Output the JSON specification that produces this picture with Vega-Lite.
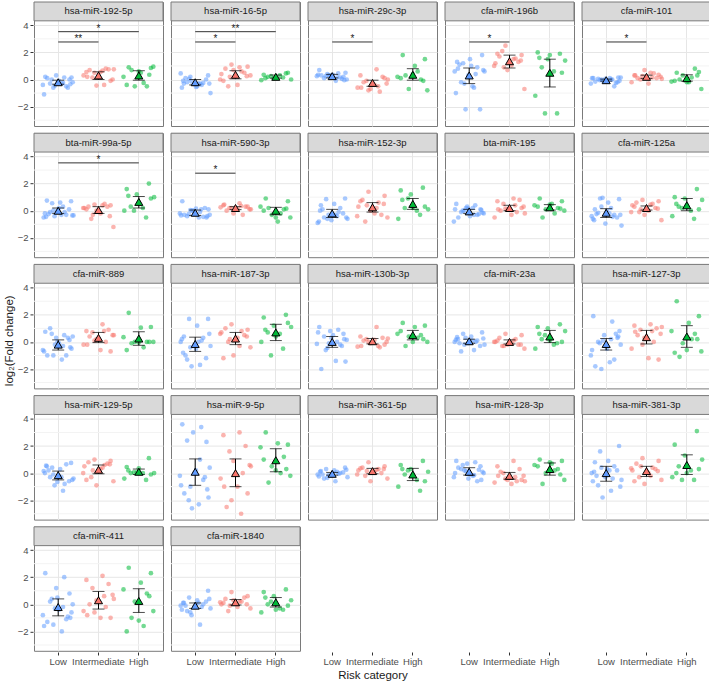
{
"$schema": "https://vega.github.io/schema/vega-lite/v6.json",
"background": "white",
"padding": {"left": 3, "top": 0, "right": 0, "bottom": 2},
"title": {"text": "log₂(Fold change)", "orient": "left", "anchor": "middle", "fontSize": 11.5, "fontWeight": "normal", "color": "#1a1a1a", "offset": 2},
"data": {"values": [
{"n":1,"name":"hsa-miR-192-5p"},{"n":2,"name":"hsa-miR-16-5p"},{"n":3,"name":"hsa-miR-29c-3p"},{"n":4,"name":"cfa-miR-196b"},{"n":5,"name":"cfa-miR-101"},{"n":6,"name":"bta-miR-99a-5p"},{"n":7,"name":"hsa-miR-590-3p"},{"n":8,"name":"hsa-miR-152-3p"},{"n":9,"name":"bta-miR-195"},{"n":10,"name":"cfa-miR-125a"},{"n":11,"name":"cfa-miR-889"},{"n":12,"name":"hsa-miR-187-3p"},{"n":13,"name":"hsa-miR-130b-3p"},{"n":14,"name":"cfa-miR-23a"},{"n":15,"name":"hsa-miR-127-3p"},{"n":16,"name":"hsa-miR-129-5p"},{"n":17,"name":"hsa-miR-9-5p"},{"n":18,"name":"hsa-miR-361-5p"},{"n":19,"name":"hsa-miR-128-3p"},{"n":20,"name":"hsa-miR-381-3p"},{"n":21,"name":"cfa-miR-411"},{"n":22,"name":"cfa-miR-1840"},
{"n":1,"a":"L","b":"I","y":2.77,"s":"**"},{"n":1,"a":"L","b":"H","y":3.53,"s":"*"},
{"n":2,"a":"L","b":"I","y":2.77,"s":"*"},{"n":2,"a":"L","b":"H","y":3.53,"s":"**"},
{"n":3,"a":"L","b":"I","y":2.77,"s":"*"},{"n":4,"a":"L","b":"I","y":2.77,"s":"*"},{"n":5,"a":"L","b":"I","y":2.77,"s":"*"},
{"n":6,"a":"L","b":"H","y":3.53,"s":"*"},{"n":7,"a":"L","b":"I","y":2.77,"s":"*"},
{"n":1,"c":"L","m":-0.2,"lo":-0.35,"hi":-0.05},{"n":1,"c":"I","m":0.3,"lo":0.0,"hi":0.57},{"n":1,"c":"H","m":0.3,"lo":-0.05,"hi":0.65},
{"n":2,"c":"L","m":-0.2,"lo":-0.4,"hi":0.0},{"n":2,"c":"I","m":0.35,"lo":0.05,"hi":0.65},{"n":2,"c":"H","m":0.2,"lo":0.1,"hi":0.33},
{"n":3,"c":"L","m":0.25,"lo":0.12,"hi":0.38},{"n":3,"c":"I","m":-0.25,"lo":-0.5,"hi":-0.05},{"n":3,"c":"H","m":0.35,"lo":-0.05,"hi":0.8},
{"n":4,"c":"L","m":0.3,"lo":-0.3,"hi":0.85},{"n":4,"c":"I","m":1.35,"lo":0.85,"hi":1.8},{"n":4,"c":"H","m":0.5,"lo":-0.55,"hi":1.5},
{"n":5,"c":"L","m":-0.05,"lo":-0.12,"hi":0.03},{"n":5,"c":"I","m":0.2,"lo":0.08,"hi":0.32},{"n":5,"c":"H","m":0.1,"lo":-0.12,"hi":0.35},
{"n":6,"c":"L","m":0.0,"lo":-0.2,"hi":0.2},{"n":6,"c":"I","m":0.05,"lo":-0.2,"hi":0.3},{"n":6,"c":"H","m":0.65,"lo":0.2,"hi":1.05},
{"n":7,"c":"L","m":-0.15,"lo":-0.35,"hi":0.05},{"n":7,"c":"I","m":0.2,"lo":0.08,"hi":0.3},{"n":7,"c":"H","m":0.0,"lo":-0.3,"hi":0.25},
{"n":8,"c":"L","m":-0.2,"lo":-0.5,"hi":0.1},{"n":8,"c":"I","m":0.25,"lo":-0.1,"hi":0.6},{"n":8,"c":"H","m":0.5,"lo":0.1,"hi":0.9},
{"n":9,"c":"L","m":-0.05,"lo":-0.2,"hi":0.1},{"n":9,"c":"I","m":0.2,"lo":0.0,"hi":0.4},{"n":9,"c":"H","m":0.25,"lo":0.05,"hi":0.45},
{"n":10,"c":"L","m":-0.15,"lo":-0.5,"hi":0.15},{"n":10,"c":"I","m":0.2,"lo":0.05,"hi":0.35},{"n":10,"c":"H","m":0.4,"lo":0.0,"hi":0.9},
{"n":11,"c":"L","m":-0.2,"lo":-0.6,"hi":0.15},{"n":11,"c":"I","m":0.3,"lo":-0.05,"hi":0.7},{"n":11,"c":"H","m":0.25,"lo":-0.25,"hi":0.75},
{"n":12,"c":"L","m":-0.15,"lo":-0.7,"hi":0.35},{"n":12,"c":"I","m":0.25,"lo":-0.2,"hi":0.7},{"n":12,"c":"H","m":0.7,"lo":0.1,"hi":1.3},
{"n":13,"c":"L","m":0.0,"lo":-0.4,"hi":0.4},{"n":13,"c":"I","m":0.05,"lo":-0.15,"hi":0.25},{"n":13,"c":"H","m":0.5,"lo":0.15,"hi":0.85},
{"n":14,"c":"L","m":0.05,"lo":-0.1,"hi":0.2},{"n":14,"c":"I","m":0.0,"lo":-0.15,"hi":0.15},{"n":14,"c":"H","m":0.4,"lo":-0.05,"hi":0.85},
{"n":15,"c":"L","m":-0.15,"lo":-0.6,"hi":0.25},{"n":15,"c":"I","m":0.35,"lo":-0.15,"hi":0.85},{"n":15,"c":"H","m":0.4,"lo":-0.4,"hi":1.2},
{"n":16,"c":"L","m":-0.15,"lo":-0.5,"hi":0.15},{"n":16,"c":"I","m":0.25,"lo":-0.05,"hi":0.6},{"n":16,"c":"H","m":0.1,"lo":-0.1,"hi":0.3},
{"n":17,"c":"L","m":0.1,"lo":-0.9,"hi":1.05},{"n":17,"c":"I","m":0.0,"lo":-1.0,"hi":1.05},{"n":17,"c":"H","m":0.95,"lo":0.1,"hi":1.8},
{"n":18,"c":"L","m":-0.05,"lo":-0.15,"hi":0.05},{"n":18,"c":"I","m":0.15,"lo":-0.05,"hi":0.35},{"n":18,"c":"H","m":-0.1,"lo":-0.55,"hi":0.35},
{"n":19,"c":"L","m":0.1,"lo":-0.15,"hi":0.4},{"n":19,"c":"I","m":-0.2,"lo":-0.45,"hi":0.05},{"n":19,"c":"H","m":0.3,"lo":-0.15,"hi":0.75},
{"n":20,"c":"L","m":0.0,"lo":-0.6,"hi":0.5},{"n":20,"c":"I","m":0.15,"lo":-0.25,"hi":0.5},{"n":20,"c":"H","m":0.6,"lo":-0.1,"hi":1.35},
{"n":21,"c":"L","m":-0.2,"lo":-0.85,"hi":0.4},{"n":21,"c":"I","m":0.3,"lo":-0.35,"hi":0.95},{"n":21,"c":"H","m":0.25,"lo":-0.6,"hi":1.15},
{"n":22,"c":"L","m":-0.1,"lo":-0.3,"hi":0.1},{"n":22,"c":"I","m":0.15,"lo":-0.05,"hi":0.35},{"n":22,"c":"H","m":0.15,"lo":-0.2,"hi":0.5},
{"n":1,"c":"L","v":0.2,"j":-0.32},{"n":1,"c":"L","v":0.15,"j":0.15},{"n":1,"c":"L","v":0.3,"j":-0.05},{"n":1,"c":"L","v":0.0,"j":0.28},{"n":1,"c":"L","v":-0.3,"j":-0.2},{"n":1,"c":"L","v":-0.2,"j":0.36},{"n":1,"c":"L","v":-0.1,"j":0.02},{"n":1,"c":"L","v":-0.4,"j":-0.38},{"n":1,"c":"L","v":-0.5,"j":0.2},{"n":1,"c":"L","v":-0.6,"j":-0.12},{"n":1,"c":"L","v":-0.3,"j":0.09},{"n":1,"c":"L","v":0.1,"j":-0.27},{"n":1,"c":"L","v":0.15,"j":0.33},{"n":1,"c":"L","v":-0.2,"j":-0.02},{"n":1,"c":"L","v":-0.6,"j":0.24},{"n":1,"c":"L","v":-1.1,"j":-0.35},{"n":1,"c":"L","v":-0.25,"j":0.12},{"n":1,"c":"L","v":0.0,"j":-0.16},{"n":1,"c":"L","v":-0.35,"j":0.3},{"n":1,"c":"L","v":-0.45,"j":-0.08},
{"n":1,"c":"I","v":0.65,"j":0.1},{"n":1,"c":"I","v":0.55,"j":-0.3},{"n":1,"c":"I","v":0.75,"j":0.25},{"n":1,"c":"I","v":0.15,"j":-0.15},{"n":1,"c":"I","v":0.0,"j":0.35},{"n":1,"c":"I","v":-0.45,"j":-0.05},{"n":1,"c":"I","v":0.8,"j":0.18},{"n":1,"c":"I","v":0.3,"j":-0.37},{"n":1,"c":"I","v":0.55,"j":0.05},{"n":1,"c":"I","v":-0.1,"j":0.3},{"n":1,"c":"I","v":0.7,"j":-0.22},{"n":1,"c":"I","v":-0.4,"j":0.14},{"n":1,"c":"I","v":0.5,"j":-0.1},{"n":1,"c":"I","v":0.75,"j":0.38},{"n":1,"c":"I","v":0.2,"j":-0.28},
{"n":1,"c":"H","v":0.9,"j":-0.25},{"n":1,"c":"H","v":0.85,"j":0.3},{"n":1,"c":"H","v":0.5,"j":0.05},{"n":1,"c":"H","v":0.2,"j":-0.38},{"n":1,"c":"H","v":-0.5,"j":0.2},{"n":1,"c":"H","v":-0.5,"j":-0.1},{"n":1,"c":"H","v":0.95,"j":0.36},{"n":1,"c":"H","v":0.7,"j":-0.18},{"n":1,"c":"H","v":-0.25,"j":0.12},{"n":1,"c":"H","v":-0.4,"j":-0.3},{"n":1,"c":"H","v":0.35,"j":0.26},{"n":1,"c":"H","v":0.6,"j":0.0},
{"n":2,"c":"L","v":0.3,"j":0.32},{"n":2,"c":"L","v":0.05,"j":-0.15},{"n":2,"c":"L","v":-0.5,"j":0.05},{"n":2,"c":"L","v":-0.3,"j":-0.28},{"n":2,"c":"L","v":-0.25,"j":0.2},{"n":2,"c":"L","v":0.45,"j":-0.36},{"n":2,"c":"L","v":-0.35,"j":-0.02},{"n":2,"c":"L","v":-1.0,"j":0.38},{"n":2,"c":"L","v":-0.2,"j":-0.2},{"n":2,"c":"L","v":-0.3,"j":0.12},{"n":2,"c":"L","v":-0.15,"j":-0.09},{"n":2,"c":"L","v":0.0,"j":0.27},{"n":2,"c":"L","v":-0.6,"j":-0.33},{"n":2,"c":"L","v":-0.55,"j":0.02},{"n":2,"c":"L","v":0.1,"j":-0.24},{"n":2,"c":"L","v":-0.3,"j":0.35},{"n":2,"c":"L","v":0.2,"j":-0.12},{"n":2,"c":"L","v":-0.4,"j":0.16},{"n":2,"c":"L","v":-0.1,"j":-0.3},{"n":2,"c":"L","v":-0.3,"j":0.08},
{"n":2,"c":"I","v":1.1,"j":-0.1},{"n":2,"c":"I","v":0.95,"j":0.3},{"n":2,"c":"I","v":0.8,"j":-0.25},{"n":2,"c":"I","v":0.6,"j":0.15},{"n":2,"c":"I","v":0.4,"j":-0.35},{"n":2,"c":"I","v":-0.4,"j":0.05},{"n":2,"c":"I","v":-0.5,"j":-0.18},{"n":2,"c":"I","v":0.3,"j":0.37},{"n":2,"c":"I","v":0.7,"j":-0.05},{"n":2,"c":"I","v":-0.1,"j":-0.3},{"n":2,"c":"I","v":0.5,"j":0.22},{"n":2,"c":"I","v":0.2,"j":-0.14},{"n":2,"c":"I","v":0.9,"j":0.1},{"n":2,"c":"I","v":0.0,"j":-0.38},{"n":2,"c":"I","v":0.25,"j":0.28},
{"n":2,"c":"H","v":0.45,"j":0.25},{"n":2,"c":"H","v":0.35,"j":-0.3},{"n":2,"c":"H","v":0.1,"j":-0.05},{"n":2,"c":"H","v":0.0,"j":0.38},{"n":2,"c":"H","v":0.2,"j":-0.2},{"n":2,"c":"H","v":0.3,"j":0.1},{"n":2,"c":"H","v":-0.05,"j":-0.36},{"n":2,"c":"H","v":0.15,"j":0.18},{"n":2,"c":"H","v":0.25,"j":-0.12},{"n":2,"c":"H","v":0.5,"j":0.3},{"n":2,"c":"H","v":0.1,"j":-0.26},{"n":2,"c":"H","v":0.15,"j":0.0},
{"n":3,"c":"L","v":0.7,"j":-0.32},{"n":3,"c":"L","v":0.45,"j":0.15},{"n":3,"c":"L","v":0.3,"j":-0.05},{"n":3,"c":"L","v":0.2,"j":0.28},{"n":3,"c":"L","v":0.1,"j":-0.2},{"n":3,"c":"L","v":0.0,"j":0.36},{"n":3,"c":"L","v":0.35,"j":0.02},{"n":3,"c":"L","v":0.25,"j":-0.38},{"n":3,"c":"L","v":0.15,"j":0.2},{"n":3,"c":"L","v":0.4,"j":-0.12},{"n":3,"c":"L","v":-0.1,"j":0.09},{"n":3,"c":"L","v":0.3,"j":-0.27},{"n":3,"c":"L","v":0.5,"j":0.33},{"n":3,"c":"L","v":0.2,"j":-0.02},{"n":3,"c":"L","v":0.05,"j":0.24},{"n":3,"c":"L","v":0.35,"j":-0.35},{"n":3,"c":"L","v":0.15,"j":0.12},{"n":3,"c":"L","v":0.25,"j":-0.16},{"n":3,"c":"L","v":-0.05,"j":0.3},{"n":3,"c":"L","v":0.3,"j":-0.08},
{"n":3,"c":"I","v":0.75,"j":0.1},{"n":3,"c":"I","v":0.3,"j":-0.3},{"n":3,"c":"I","v":0.2,"j":0.25},{"n":3,"c":"I","v":-0.1,"j":-0.15},{"n":3,"c":"I","v":-0.3,"j":0.35},{"n":3,"c":"I","v":-0.7,"j":-0.05},{"n":3,"c":"I","v":-0.9,"j":0.18},{"n":3,"c":"I","v":-0.6,"j":-0.37},{"n":3,"c":"I","v":-0.4,"j":0.05},{"n":3,"c":"I","v":0.1,"j":0.3},{"n":3,"c":"I","v":-0.2,"j":-0.22},{"n":3,"c":"I","v":-0.5,"j":0.14},{"n":3,"c":"I","v":-0.8,"j":-0.1},{"n":3,"c":"I","v":0.0,"j":0.38},{"n":3,"c":"I","v":-0.6,"j":-0.28},
{"n":3,"c":"H","v":1.8,"j":-0.25},{"n":3,"c":"H","v":1.5,"j":0.3},{"n":3,"c":"H","v":1.0,"j":0.05},{"n":3,"c":"H","v":0.2,"j":-0.38},{"n":3,"c":"H","v":0.0,"j":0.2},{"n":3,"c":"H","v":-0.7,"j":-0.1},{"n":3,"c":"H","v":-0.8,"j":0.36},{"n":3,"c":"H","v":0.3,"j":-0.18},{"n":3,"c":"H","v":0.6,"j":0.12},{"n":3,"c":"H","v":0.1,"j":-0.3},{"n":3,"c":"H","v":-0.1,"j":0.26},{"n":3,"c":"H","v":0.4,"j":0.0},
{"n":4,"c":"L","v":1.8,"j":0.32},{"n":4,"c":"L","v":1.2,"j":-0.15},{"n":4,"c":"L","v":1.0,"j":0.05},{"n":4,"c":"L","v":0.8,"j":-0.28},{"n":4,"c":"L","v":0.9,"j":0.2},{"n":4,"c":"L","v":0.6,"j":-0.36},{"n":4,"c":"L","v":0.3,"j":-0.02},{"n":4,"c":"L","v":0.6,"j":0.38},{"n":4,"c":"L","v":-0.2,"j":-0.2},{"n":4,"c":"L","v":-0.6,"j":0.12},{"n":4,"c":"L","v":-2.2,"j":-0.09},{"n":4,"c":"L","v":-2.2,"j":0.27},{"n":4,"c":"L","v":-1.0,"j":-0.33},{"n":4,"c":"L","v":1.5,"j":0.02},{"n":4,"c":"L","v":1.1,"j":-0.24},{"n":4,"c":"L","v":0.7,"j":0.35},{"n":4,"c":"L","v":-0.3,"j":-0.12},{"n":4,"c":"L","v":0.4,"j":0.16},{"n":4,"c":"L","v":1.3,"j":-0.3},{"n":4,"c":"L","v":-0.5,"j":0.08},
{"n":4,"c":"I","v":2.5,"j":-0.1},{"n":4,"c":"I","v":1.8,"j":0.3},{"n":4,"c":"I","v":1.7,"j":-0.25},{"n":4,"c":"I","v":1.55,"j":0.15},{"n":4,"c":"I","v":1.2,"j":-0.35},{"n":4,"c":"I","v":1.05,"j":0.05},{"n":4,"c":"I","v":2.1,"j":-0.18},{"n":4,"c":"I","v":-0.7,"j":0.37},{"n":4,"c":"I","v":0.7,"j":-0.05},{"n":4,"c":"I","v":1.9,"j":-0.3},{"n":4,"c":"I","v":1.3,"j":0.22},{"n":4,"c":"I","v":0.9,"j":-0.14},{"n":4,"c":"I","v":1.5,"j":0.1},{"n":4,"c":"I","v":1.0,"j":-0.38},{"n":4,"c":"I","v":1.4,"j":0.28},
{"n":4,"c":"H","v":1.9,"j":0.25},{"n":4,"c":"H","v":2.0,"j":-0.3},{"n":4,"c":"H","v":1.5,"j":-0.05},{"n":4,"c":"H","v":1.4,"j":0.38},{"n":4,"c":"H","v":0.9,"j":-0.2},{"n":4,"c":"H","v":0.6,"j":0.1},{"n":4,"c":"H","v":-1.2,"j":-0.36},{"n":4,"c":"H","v":-2.5,"j":0.18},{"n":4,"c":"H","v":-2.5,"j":-0.12},{"n":4,"c":"H","v":0.5,"j":0.3},{"n":4,"c":"H","v":1.6,"j":-0.26},{"n":4,"c":"H","v":1.8,"j":0.0},
{"n":5,"c":"L","v":0.1,"j":-0.32},{"n":5,"c":"L","v":0.0,"j":0.15},{"n":5,"c":"L","v":-0.1,"j":-0.05},{"n":5,"c":"L","v":-0.2,"j":0.28},{"n":5,"c":"L","v":0.05,"j":-0.2},{"n":5,"c":"L","v":0.15,"j":0.36},{"n":5,"c":"L","v":-0.05,"j":0.02},{"n":5,"c":"L","v":-0.3,"j":-0.38},{"n":5,"c":"L","v":-0.5,"j":0.2},{"n":5,"c":"L","v":0.0,"j":-0.12},{"n":5,"c":"L","v":0.1,"j":0.09},{"n":5,"c":"L","v":-0.15,"j":-0.27},{"n":5,"c":"L","v":-0.1,"j":0.33},{"n":5,"c":"L","v":0.05,"j":-0.02},{"n":5,"c":"L","v":-0.25,"j":0.24},{"n":5,"c":"L","v":0.1,"j":-0.35},{"n":5,"c":"L","v":0.0,"j":0.12},{"n":5,"c":"L","v":-0.05,"j":-0.16},{"n":5,"c":"L","v":0.15,"j":0.3},{"n":5,"c":"L","v":-0.1,"j":-0.08},
{"n":5,"c":"I","v":0.5,"j":0.1},{"n":5,"c":"I","v":0.3,"j":-0.3},{"n":5,"c":"I","v":0.1,"j":0.25},{"n":5,"c":"I","v":0.0,"j":-0.15},{"n":5,"c":"I","v":0.2,"j":0.35},{"n":5,"c":"I","v":0.7,"j":-0.05},{"n":5,"c":"I","v":0.45,"j":0.18},{"n":5,"c":"I","v":-0.2,"j":-0.37},{"n":5,"c":"I","v":-0.3,"j":0.05},{"n":5,"c":"I","v":0.35,"j":0.3},{"n":5,"c":"I","v":0.1,"j":-0.22},{"n":5,"c":"I","v":0.15,"j":0.14},{"n":5,"c":"I","v":0.25,"j":-0.1},{"n":5,"c":"I","v":0.05,"j":0.38},{"n":5,"c":"I","v":0.3,"j":-0.28},
{"n":5,"c":"H","v":0.5,"j":-0.25},{"n":5,"c":"H","v":0.55,"j":0.3},{"n":5,"c":"H","v":-0.2,"j":0.05},{"n":5,"c":"H","v":-0.15,"j":-0.38},{"n":5,"c":"H","v":0.8,"j":0.2},{"n":5,"c":"H","v":0.3,"j":-0.1},{"n":5,"c":"H","v":-0.7,"j":0.36},{"n":5,"c":"H","v":0.0,"j":-0.18},{"n":5,"c":"H","v":0.15,"j":0.12},{"n":5,"c":"H","v":-0.1,"j":-0.3},{"n":5,"c":"H","v":0.3,"j":0.26},{"n":5,"c":"H","v":-0.2,"j":0.0},
{"n":6,"c":"L","v":0.7,"j":0.32},{"n":6,"c":"L","v":0.55,"j":-0.15},{"n":6,"c":"L","v":0.6,"j":0.05},{"n":6,"c":"L","v":0.75,"j":-0.28},{"n":6,"c":"L","v":-0.3,"j":0.2},{"n":6,"c":"L","v":-0.5,"j":-0.36},{"n":6,"c":"L","v":0.0,"j":-0.02},{"n":6,"c":"L","v":-0.35,"j":0.38},{"n":6,"c":"L","v":-0.1,"j":-0.2},{"n":6,"c":"L","v":0.3,"j":0.12},{"n":6,"c":"L","v":-0.4,"j":-0.09},{"n":6,"c":"L","v":0.1,"j":0.27},{"n":6,"c":"L","v":-0.2,"j":-0.33},{"n":6,"c":"L","v":0.2,"j":0.02},{"n":6,"c":"L","v":-0.25,"j":-0.24},{"n":6,"c":"L","v":-0.35,"j":0.35},{"n":6,"c":"L","v":0.0,"j":-0.12},{"n":6,"c":"L","v":-0.1,"j":0.16},{"n":6,"c":"L","v":-0.45,"j":-0.3},{"n":6,"c":"L","v":-0.3,"j":0.08},
{"n":6,"c":"I","v":0.45,"j":-0.1},{"n":6,"c":"I","v":0.4,"j":0.3},{"n":6,"c":"I","v":0.3,"j":-0.25},{"n":6,"c":"I","v":0.5,"j":0.15},{"n":6,"c":"I","v":0.2,"j":-0.35},{"n":6,"c":"I","v":-0.2,"j":0.05},{"n":6,"c":"I","v":-0.6,"j":-0.18},{"n":6,"c":"I","v":-1.2,"j":0.37},{"n":6,"c":"I","v":0.0,"j":-0.05},{"n":6,"c":"I","v":0.1,"j":-0.3},{"n":6,"c":"I","v":0.3,"j":0.22},{"n":6,"c":"I","v":-0.3,"j":-0.14},{"n":6,"c":"I","v":0.4,"j":0.1},{"n":6,"c":"I","v":0.2,"j":-0.38},{"n":6,"c":"I","v":-0.4,"j":0.28},
{"n":6,"c":"H","v":2.0,"j":0.25},{"n":6,"c":"H","v":1.6,"j":-0.3},{"n":6,"c":"H","v":1.2,"j":-0.05},{"n":6,"c":"H","v":1.0,"j":0.38},{"n":6,"c":"H","v":0.3,"j":-0.2},{"n":6,"c":"H","v":0.2,"j":0.1},{"n":6,"c":"H","v":0.0,"j":-0.36},{"n":6,"c":"H","v":-0.5,"j":0.18},{"n":6,"c":"H","v":0.0,"j":-0.12},{"n":6,"c":"H","v":0.9,"j":0.3},{"n":6,"c":"H","v":1.1,"j":-0.26},{"n":6,"c":"H","v":0.6,"j":0.0},
{"n":7,"c":"L","v":0.7,"j":-0.32},{"n":7,"c":"L","v":0.1,"j":0.15},{"n":7,"c":"L","v":0.0,"j":-0.05},{"n":7,"c":"L","v":-0.5,"j":0.28},{"n":7,"c":"L","v":-0.4,"j":-0.2},{"n":7,"c":"L","v":-0.3,"j":0.36},{"n":7,"c":"L","v":0.15,"j":0.02},{"n":7,"c":"L","v":-0.2,"j":-0.38},{"n":7,"c":"L","v":-0.45,"j":0.2},{"n":7,"c":"L","v":0.05,"j":-0.12},{"n":7,"c":"L","v":-0.5,"j":0.09},{"n":7,"c":"L","v":-0.3,"j":-0.27},{"n":7,"c":"L","v":0.1,"j":0.33},{"n":7,"c":"L","v":-0.2,"j":-0.02},{"n":7,"c":"L","v":0.2,"j":0.24},{"n":7,"c":"L","v":-0.35,"j":-0.35},{"n":7,"c":"L","v":-0.1,"j":0.12},{"n":7,"c":"L","v":-0.25,"j":-0.16},{"n":7,"c":"L","v":-0.4,"j":0.3},{"n":7,"c":"L","v":0.0,"j":-0.08},
{"n":7,"c":"I","v":0.55,"j":0.1},{"n":7,"c":"I","v":0.4,"j":-0.3},{"n":7,"c":"I","v":0.3,"j":0.25},{"n":7,"c":"I","v":0.2,"j":-0.15},{"n":7,"c":"I","v":0.1,"j":0.35},{"n":7,"c":"I","v":-0.2,"j":-0.05},{"n":7,"c":"I","v":-0.3,"j":0.18},{"n":7,"c":"I","v":0.25,"j":-0.37},{"n":7,"c":"I","v":0.15,"j":0.05},{"n":7,"c":"I","v":0.3,"j":0.3},{"n":7,"c":"I","v":0.0,"j":-0.22},{"n":7,"c":"I","v":0.35,"j":0.14},{"n":7,"c":"I","v":0.2,"j":-0.1},{"n":7,"c":"I","v":0.1,"j":0.38},{"n":7,"c":"I","v":0.45,"j":-0.28},
{"n":7,"c":"H","v":0.9,"j":-0.25},{"n":7,"c":"H","v":0.7,"j":0.3},{"n":7,"c":"H","v":-0.8,"j":0.05},{"n":7,"c":"H","v":0.3,"j":-0.38},{"n":7,"c":"H","v":0.1,"j":0.2},{"n":7,"c":"H","v":-0.3,"j":-0.1},{"n":7,"c":"H","v":-0.5,"j":0.36},{"n":7,"c":"H","v":0.2,"j":-0.18},{"n":7,"c":"H","v":-0.2,"j":0.12},{"n":7,"c":"H","v":0.0,"j":-0.3},{"n":7,"c":"H","v":0.15,"j":0.26},{"n":7,"c":"H","v":-0.5,"j":0.0},
{"n":8,"c":"L","v":0.9,"j":0.32},{"n":8,"c":"L","v":0.85,"j":-0.15},{"n":8,"c":"L","v":0.5,"j":0.05},{"n":8,"c":"L","v":0.4,"j":-0.28},{"n":8,"c":"L","v":0.2,"j":0.2},{"n":8,"c":"L","v":-0.9,"j":-0.36},{"n":8,"c":"L","v":-0.7,"j":-0.02},{"n":8,"c":"L","v":-0.6,"j":0.38},{"n":8,"c":"L","v":-0.5,"j":-0.2},{"n":8,"c":"L","v":-0.4,"j":0.12},{"n":8,"c":"L","v":-0.3,"j":-0.09},{"n":8,"c":"L","v":-0.2,"j":0.27},{"n":8,"c":"L","v":-0.8,"j":-0.33},{"n":8,"c":"L","v":-0.35,"j":0.02},{"n":8,"c":"L","v":0.1,"j":-0.24},{"n":8,"c":"L","v":-0.5,"j":0.35},{"n":8,"c":"L","v":-0.6,"j":-0.12},{"n":8,"c":"L","v":-0.1,"j":0.16},{"n":8,"c":"L","v":0.0,"j":-0.3},{"n":8,"c":"L","v":-0.3,"j":0.08},
{"n":8,"c":"I","v":1.4,"j":-0.1},{"n":8,"c":"I","v":1.1,"j":0.3},{"n":8,"c":"I","v":0.8,"j":-0.25},{"n":8,"c":"I","v":0.6,"j":0.15},{"n":8,"c":"I","v":0.3,"j":-0.35},{"n":8,"c":"I","v":-0.2,"j":0.05},{"n":8,"c":"I","v":-0.8,"j":-0.18},{"n":8,"c":"I","v":-0.5,"j":0.37},{"n":8,"c":"I","v":0.0,"j":-0.05},{"n":8,"c":"I","v":0.7,"j":-0.3},{"n":8,"c":"I","v":-0.3,"j":0.22},{"n":8,"c":"I","v":0.4,"j":-0.14},{"n":8,"c":"I","v":0.2,"j":0.1},{"n":8,"c":"I","v":-0.4,"j":-0.38},{"n":8,"c":"I","v":0.5,"j":0.28},
{"n":8,"c":"H","v":1.7,"j":0.25},{"n":8,"c":"H","v":1.5,"j":-0.3},{"n":8,"c":"H","v":1.2,"j":-0.05},{"n":8,"c":"H","v":0.1,"j":0.38},{"n":8,"c":"H","v":0.2,"j":-0.2},{"n":8,"c":"H","v":0.0,"j":0.1},{"n":8,"c":"H","v":-0.6,"j":-0.36},{"n":8,"c":"H","v":-0.3,"j":0.18},{"n":8,"c":"H","v":0.9,"j":-0.12},{"n":8,"c":"H","v":0.3,"j":0.3},{"n":8,"c":"H","v":0.8,"j":-0.26},{"n":8,"c":"H","v":0.2,"j":0.0},
{"n":9,"c":"L","v":0.5,"j":-0.32},{"n":9,"c":"L","v":0.4,"j":0.15},{"n":9,"c":"L","v":0.3,"j":-0.05},{"n":9,"c":"L","v":0.1,"j":0.28},{"n":9,"c":"L","v":-0.1,"j":-0.2},{"n":9,"c":"L","v":-0.2,"j":0.36},{"n":9,"c":"L","v":-0.4,"j":0.02},{"n":9,"c":"L","v":-0.8,"j":-0.38},{"n":9,"c":"L","v":-0.3,"j":0.2},{"n":9,"c":"L","v":0.0,"j":-0.12},{"n":9,"c":"L","v":0.2,"j":0.09},{"n":9,"c":"L","v":-0.5,"j":-0.27},{"n":9,"c":"L","v":-0.15,"j":0.33},{"n":9,"c":"L","v":0.15,"j":-0.02},{"n":9,"c":"L","v":-0.25,"j":0.24},{"n":9,"c":"L","v":0.1,"j":-0.35},{"n":9,"c":"L","v":-0.3,"j":0.12},{"n":9,"c":"L","v":0.0,"j":-0.16},{"n":9,"c":"L","v":0.05,"j":0.3},{"n":9,"c":"L","v":0.2,"j":-0.08},
{"n":9,"c":"I","v":0.9,"j":0.1},{"n":9,"c":"I","v":0.7,"j":-0.3},{"n":9,"c":"I","v":0.8,"j":0.25},{"n":9,"c":"I","v":0.5,"j":-0.15},{"n":9,"c":"I","v":0.3,"j":0.35},{"n":9,"c":"I","v":0.1,"j":-0.05},{"n":9,"c":"I","v":-0.1,"j":0.18},{"n":9,"c":"I","v":-0.5,"j":-0.37},{"n":9,"c":"I","v":-0.3,"j":0.05},{"n":9,"c":"I","v":0.2,"j":0.3},{"n":9,"c":"I","v":0.0,"j":-0.22},{"n":9,"c":"I","v":0.4,"j":0.14},{"n":9,"c":"I","v":0.15,"j":-0.1},{"n":9,"c":"I","v":-0.2,"j":0.38},{"n":9,"c":"I","v":0.1,"j":-0.28},
{"n":9,"c":"H","v":0.9,"j":-0.25},{"n":9,"c":"H","v":0.7,"j":0.3},{"n":9,"c":"H","v":0.5,"j":0.05},{"n":9,"c":"H","v":0.4,"j":-0.38},{"n":9,"c":"H","v":0.2,"j":0.2},{"n":9,"c":"H","v":0.1,"j":-0.1},{"n":9,"c":"H","v":0.0,"j":0.36},{"n":9,"c":"H","v":-0.5,"j":-0.18},{"n":9,"c":"H","v":-0.2,"j":0.12},{"n":9,"c":"H","v":0.3,"j":-0.3},{"n":9,"c":"H","v":0.15,"j":0.26},{"n":9,"c":"H","v":0.45,"j":0.0},
{"n":10,"c":"L","v":0.85,"j":0.32},{"n":10,"c":"L","v":0.9,"j":-0.15},{"n":10,"c":"L","v":0.6,"j":0.05},{"n":10,"c":"L","v":0.1,"j":-0.28},{"n":10,"c":"L","v":-0.3,"j":0.2},{"n":10,"c":"L","v":-0.4,"j":-0.36},{"n":10,"c":"L","v":-0.95,"j":-0.02},{"n":10,"c":"L","v":-1.1,"j":0.38},{"n":10,"c":"L","v":-0.15,"j":-0.2},{"n":10,"c":"L","v":0.2,"j":0.12},{"n":10,"c":"L","v":0.95,"j":-0.09},{"n":10,"c":"L","v":-0.5,"j":0.27},{"n":10,"c":"L","v":-0.6,"j":-0.33},{"n":10,"c":"L","v":0.0,"j":0.02},{"n":10,"c":"L","v":-0.25,"j":-0.24},{"n":10,"c":"L","v":-0.3,"j":0.35},{"n":10,"c":"L","v":0.3,"j":-0.12},{"n":10,"c":"L","v":-0.45,"j":0.16},{"n":10,"c":"L","v":-0.7,"j":-0.3},{"n":10,"c":"L","v":-0.2,"j":0.08},
{"n":10,"c":"I","v":0.8,"j":-0.1},{"n":10,"c":"I","v":0.7,"j":0.3},{"n":10,"c":"I","v":0.6,"j":-0.25},{"n":10,"c":"I","v":0.5,"j":0.15},{"n":10,"c":"I","v":0.4,"j":-0.35},{"n":10,"c":"I","v":0.0,"j":0.05},{"n":10,"c":"I","v":-0.1,"j":-0.18},{"n":10,"c":"I","v":-0.7,"j":0.37},{"n":10,"c":"I","v":-0.3,"j":-0.05},{"n":10,"c":"I","v":0.3,"j":-0.3},{"n":10,"c":"I","v":0.2,"j":0.22},{"n":10,"c":"I","v":0.1,"j":-0.14},{"n":10,"c":"I","v":0.45,"j":0.1},{"n":10,"c":"I","v":-0.1,"j":-0.38},{"n":10,"c":"I","v":0.15,"j":0.28},
{"n":10,"c":"H","v":1.6,"j":0.25},{"n":10,"c":"H","v":1.0,"j":-0.3},{"n":10,"c":"H","v":0.9,"j":-0.05},{"n":10,"c":"H","v":0.8,"j":0.38},{"n":10,"c":"H","v":0.3,"j":-0.2},{"n":10,"c":"H","v":0.0,"j":0.1},{"n":10,"c":"H","v":-0.4,"j":-0.36},{"n":10,"c":"H","v":-0.6,"j":0.18},{"n":10,"c":"H","v":0.2,"j":-0.12},{"n":10,"c":"H","v":0.1,"j":0.3},{"n":10,"c":"H","v":0.5,"j":-0.26},{"n":10,"c":"H","v":0.4,"j":0.0},
{"n":11,"c":"L","v":0.75,"j":-0.32},{"n":11,"c":"L","v":0.5,"j":0.15},{"n":11,"c":"L","v":0.3,"j":-0.05},{"n":11,"c":"L","v":0.15,"j":0.28},{"n":11,"c":"L","v":1.0,"j":-0.2},{"n":11,"c":"L","v":0.4,"j":0.36},{"n":11,"c":"L","v":-0.1,"j":0.02},{"n":11,"c":"L","v":-0.6,"j":-0.38},{"n":11,"c":"L","v":-1.0,"j":0.2},{"n":11,"c":"L","v":-1.0,"j":-0.12},{"n":11,"c":"L","v":-1.3,"j":0.09},{"n":11,"c":"L","v":-1.0,"j":-0.27},{"n":11,"c":"L","v":-0.5,"j":0.33},{"n":11,"c":"L","v":0.0,"j":-0.02},{"n":11,"c":"L","v":0.3,"j":0.24},{"n":11,"c":"L","v":-0.7,"j":-0.35},{"n":11,"c":"L","v":-0.3,"j":0.12},{"n":11,"c":"L","v":0.6,"j":-0.16},{"n":11,"c":"L","v":-0.4,"j":0.3},{"n":11,"c":"L","v":-0.2,"j":-0.08},
{"n":11,"c":"I","v":1.3,"j":0.1},{"n":11,"c":"I","v":0.8,"j":-0.3},{"n":11,"c":"I","v":0.9,"j":0.25},{"n":11,"c":"I","v":0.7,"j":-0.15},{"n":11,"c":"I","v":0.5,"j":0.35},{"n":11,"c":"I","v":0.2,"j":-0.05},{"n":11,"c":"I","v":0.0,"j":0.18},{"n":11,"c":"I","v":-0.2,"j":-0.37},{"n":11,"c":"I","v":-0.6,"j":0.05},{"n":11,"c":"I","v":-0.7,"j":0.3},{"n":11,"c":"I","v":0.4,"j":-0.22},{"n":11,"c":"I","v":0.8,"j":0.14},{"n":11,"c":"I","v":0.1,"j":-0.1},{"n":11,"c":"I","v":0.5,"j":0.38},{"n":11,"c":"I","v":-0.2,"j":-0.28},
{"n":11,"c":"H","v":2.15,"j":-0.25},{"n":11,"c":"H","v":1.1,"j":0.3},{"n":11,"c":"H","v":1.05,"j":0.05},{"n":11,"c":"H","v":0.35,"j":-0.38},{"n":11,"c":"H","v":0.0,"j":0.2},{"n":11,"c":"H","v":0.0,"j":-0.1},{"n":11,"c":"H","v":0.0,"j":0.36},{"n":11,"c":"H","v":-0.1,"j":-0.18},{"n":11,"c":"H","v":-0.4,"j":0.12},{"n":11,"c":"H","v":-0.6,"j":-0.3},{"n":11,"c":"H","v":0.0,"j":0.26},{"n":11,"c":"H","v":-0.05,"j":0.0},
{"n":12,"c":"L","v":1.7,"j":0.32},{"n":12,"c":"L","v":1.7,"j":-0.15},{"n":12,"c":"L","v":1.2,"j":0.05},{"n":12,"c":"L","v":0.4,"j":-0.28},{"n":12,"c":"L","v":0.3,"j":0.2},{"n":12,"c":"L","v":0.0,"j":-0.36},{"n":12,"c":"L","v":-0.2,"j":-0.02},{"n":12,"c":"L","v":-0.3,"j":0.38},{"n":12,"c":"L","v":-1.3,"j":-0.2},{"n":12,"c":"L","v":-1.7,"j":0.12},{"n":12,"c":"L","v":-1.8,"j":-0.09},{"n":12,"c":"L","v":-1.2,"j":0.27},{"n":12,"c":"L","v":0.2,"j":-0.33},{"n":12,"c":"L","v":-0.5,"j":0.02},{"n":12,"c":"L","v":-1.0,"j":-0.24},{"n":12,"c":"L","v":0.6,"j":0.35},{"n":12,"c":"L","v":-0.4,"j":-0.12},{"n":12,"c":"L","v":0.1,"j":0.16},{"n":12,"c":"L","v":-0.8,"j":-0.3},{"n":12,"c":"L","v":0.0,"j":0.08},
{"n":12,"c":"I","v":1.3,"j":-0.1},{"n":12,"c":"I","v":0.9,"j":0.3},{"n":12,"c":"I","v":1.0,"j":-0.25},{"n":12,"c":"I","v":0.8,"j":0.15},{"n":12,"c":"I","v":0.7,"j":-0.35},{"n":12,"c":"I","v":0.3,"j":0.05},{"n":12,"c":"I","v":0.0,"j":-0.18},{"n":12,"c":"I","v":-0.4,"j":0.37},{"n":12,"c":"I","v":-1.0,"j":-0.05},{"n":12,"c":"I","v":-1.2,"j":-0.3},{"n":12,"c":"I","v":0.5,"j":0.22},{"n":12,"c":"I","v":0.2,"j":-0.14},{"n":12,"c":"I","v":-0.3,"j":0.1},{"n":12,"c":"I","v":0.6,"j":-0.38},{"n":12,"c":"I","v":0.4,"j":0.28},
{"n":12,"c":"H","v":2.0,"j":0.25},{"n":12,"c":"H","v":1.8,"j":-0.3},{"n":12,"c":"H","v":1.2,"j":-0.05},{"n":12,"c":"H","v":1.1,"j":0.38},{"n":12,"c":"H","v":0.7,"j":-0.2},{"n":12,"c":"H","v":0.6,"j":0.1},{"n":12,"c":"H","v":0.0,"j":-0.36},{"n":12,"c":"H","v":-0.5,"j":0.18},{"n":12,"c":"H","v":-1.0,"j":-0.12},{"n":12,"c":"H","v":1.4,"j":0.3},{"n":12,"c":"H","v":0.9,"j":-0.26},{"n":12,"c":"H","v":0.4,"j":0.0},
{"n":13,"c":"L","v":1.1,"j":-0.32},{"n":13,"c":"L","v":0.9,"j":0.15},{"n":13,"c":"L","v":0.8,"j":-0.05},{"n":13,"c":"L","v":0.6,"j":0.28},{"n":13,"c":"L","v":0.4,"j":-0.2},{"n":13,"c":"L","v":0.15,"j":0.36},{"n":13,"c":"L","v":0.5,"j":0.02},{"n":13,"c":"L","v":-0.15,"j":-0.38},{"n":13,"c":"L","v":-0.2,"j":0.2},{"n":13,"c":"L","v":-0.45,"j":-0.12},{"n":13,"c":"L","v":-1.4,"j":0.09},{"n":13,"c":"L","v":-2.0,"j":-0.27},{"n":13,"c":"L","v":-1.45,"j":0.33},{"n":13,"c":"L","v":0.3,"j":-0.02},{"n":13,"c":"L","v":-0.3,"j":0.24},{"n":13,"c":"L","v":0.7,"j":-0.35},{"n":13,"c":"L","v":0.0,"j":0.12},{"n":13,"c":"L","v":-0.6,"j":-0.16},{"n":13,"c":"L","v":0.2,"j":0.3},{"n":13,"c":"L","v":-0.1,"j":-0.08},
{"n":13,"c":"I","v":1.1,"j":0.1},{"n":13,"c":"I","v":0.4,"j":-0.3},{"n":13,"c":"I","v":0.3,"j":0.25},{"n":13,"c":"I","v":0.2,"j":-0.15},{"n":13,"c":"I","v":0.0,"j":0.35},{"n":13,"c":"I","v":-0.1,"j":-0.05},{"n":13,"c":"I","v":-0.4,"j":0.18},{"n":13,"c":"I","v":-0.35,"j":-0.37},{"n":13,"c":"I","v":0.15,"j":0.05},{"n":13,"c":"I","v":-0.2,"j":0.3},{"n":13,"c":"I","v":0.1,"j":-0.22},{"n":13,"c":"I","v":-0.3,"j":0.14},{"n":13,"c":"I","v":0.0,"j":-0.1},{"n":13,"c":"I","v":0.25,"j":0.38},{"n":13,"c":"I","v":-0.3,"j":-0.28},
{"n":13,"c":"H","v":1.4,"j":-0.25},{"n":13,"c":"H","v":1.2,"j":0.3},{"n":13,"c":"H","v":1.1,"j":0.05},{"n":13,"c":"H","v":0.6,"j":-0.38},{"n":13,"c":"H","v":0.5,"j":0.2},{"n":13,"c":"H","v":0.4,"j":-0.1},{"n":13,"c":"H","v":0.0,"j":0.36},{"n":13,"c":"H","v":-0.3,"j":-0.18},{"n":13,"c":"H","v":0.3,"j":0.12},{"n":13,"c":"H","v":0.8,"j":-0.3},{"n":13,"c":"H","v":0.2,"j":0.26},{"n":13,"c":"H","v":0.0,"j":0.0},
{"n":14,"c":"L","v":0.7,"j":0.32},{"n":14,"c":"L","v":0.6,"j":-0.15},{"n":14,"c":"L","v":0.4,"j":0.05},{"n":14,"c":"L","v":0.2,"j":-0.28},{"n":14,"c":"L","v":0.1,"j":0.2},{"n":14,"c":"L","v":0.0,"j":-0.36},{"n":14,"c":"L","v":-0.1,"j":-0.02},{"n":14,"c":"L","v":-0.2,"j":0.38},{"n":14,"c":"L","v":-0.7,"j":-0.2},{"n":14,"c":"L","v":-0.6,"j":0.12},{"n":14,"c":"L","v":0.3,"j":-0.09},{"n":14,"c":"L","v":-0.3,"j":0.27},{"n":14,"c":"L","v":0.15,"j":-0.33},{"n":14,"c":"L","v":0.05,"j":0.02},{"n":14,"c":"L","v":-0.1,"j":-0.24},{"n":14,"c":"L","v":0.25,"j":0.35},{"n":14,"c":"L","v":-0.2,"j":-0.12},{"n":14,"c":"L","v":0.0,"j":0.16},{"n":14,"c":"L","v":0.35,"j":-0.3},{"n":14,"c":"L","v":0.1,"j":0.08},
{"n":14,"c":"I","v":0.6,"j":-0.1},{"n":14,"c":"I","v":0.5,"j":0.3},{"n":14,"c":"I","v":0.3,"j":-0.25},{"n":14,"c":"I","v":0.2,"j":0.15},{"n":14,"c":"I","v":0.0,"j":-0.35},{"n":14,"c":"I","v":-0.1,"j":0.05},{"n":14,"c":"I","v":-0.3,"j":-0.18},{"n":14,"c":"I","v":-0.5,"j":0.37},{"n":14,"c":"I","v":-0.2,"j":-0.05},{"n":14,"c":"I","v":0.1,"j":-0.3},{"n":14,"c":"I","v":-0.2,"j":0.22},{"n":14,"c":"I","v":-0.3,"j":-0.14},{"n":14,"c":"I","v":0.1,"j":0.1},{"n":14,"c":"I","v":0.0,"j":-0.38},{"n":14,"c":"I","v":-0.2,"j":0.28},
{"n":14,"c":"H","v":1.3,"j":0.25},{"n":14,"c":"H","v":1.1,"j":-0.3},{"n":14,"c":"H","v":1.0,"j":-0.05},{"n":14,"c":"H","v":0.8,"j":0.38},{"n":14,"c":"H","v":0.2,"j":-0.2},{"n":14,"c":"H","v":-0.2,"j":0.1},{"n":14,"c":"H","v":-0.5,"j":-0.36},{"n":14,"c":"H","v":-0.1,"j":0.18},{"n":14,"c":"H","v":0.5,"j":-0.12},{"n":14,"c":"H","v":0.0,"j":0.3},{"n":14,"c":"H","v":0.6,"j":-0.26},{"n":14,"c":"H","v":0.1,"j":0.0},
{"n":15,"c":"L","v":1.9,"j":-0.32},{"n":15,"c":"L","v":1.5,"j":0.15},{"n":15,"c":"L","v":0.5,"j":-0.05},{"n":15,"c":"L","v":0.3,"j":0.28},{"n":15,"c":"L","v":0.0,"j":-0.2},{"n":15,"c":"L","v":-0.2,"j":0.36},{"n":15,"c":"L","v":-0.5,"j":0.02},{"n":15,"c":"L","v":-1.0,"j":-0.38},{"n":15,"c":"L","v":-1.3,"j":0.2},{"n":15,"c":"L","v":-2.0,"j":-0.12},{"n":15,"c":"L","v":-1.5,"j":0.09},{"n":15,"c":"L","v":-1.8,"j":-0.27},{"n":15,"c":"L","v":0.8,"j":0.33},{"n":15,"c":"L","v":-0.3,"j":-0.02},{"n":15,"c":"L","v":0.6,"j":0.24},{"n":15,"c":"L","v":-0.6,"j":-0.35},{"n":15,"c":"L","v":0.2,"j":0.12},{"n":15,"c":"L","v":-0.1,"j":-0.16},{"n":15,"c":"L","v":0.4,"j":0.3},{"n":15,"c":"L","v":0.1,"j":-0.08},
{"n":15,"c":"I","v":1.3,"j":0.1},{"n":15,"c":"I","v":1.2,"j":-0.3},{"n":15,"c":"I","v":1.0,"j":0.25},{"n":15,"c":"I","v":0.9,"j":-0.15},{"n":15,"c":"I","v":0.6,"j":0.35},{"n":15,"c":"I","v":0.3,"j":-0.05},{"n":15,"c":"I","v":0.0,"j":0.18},{"n":15,"c":"I","v":-0.5,"j":-0.37},{"n":15,"c":"I","v":-1.2,"j":0.05},{"n":15,"c":"I","v":-1.3,"j":0.3},{"n":15,"c":"I","v":0.5,"j":-0.22},{"n":15,"c":"I","v":0.8,"j":0.14},{"n":15,"c":"I","v":-0.2,"j":-0.1},{"n":15,"c":"I","v":1.1,"j":0.38},{"n":15,"c":"I","v":0.75,"j":-0.28},
{"n":15,"c":"H","v":3.0,"j":-0.25},{"n":15,"c":"H","v":1.9,"j":0.3},{"n":15,"c":"H","v":1.4,"j":0.05},{"n":15,"c":"H","v":0.8,"j":-0.38},{"n":15,"c":"H","v":0.6,"j":0.2},{"n":15,"c":"H","v":-0.1,"j":-0.1},{"n":15,"c":"H","v":-0.7,"j":0.36},{"n":15,"c":"H","v":-1.1,"j":-0.18},{"n":15,"c":"H","v":0.2,"j":0.12},{"n":15,"c":"H","v":-0.8,"j":-0.3},{"n":15,"c":"H","v":0.2,"j":0.26},{"n":15,"c":"H","v":-0.6,"j":0.0},
{"n":16,"c":"L","v":0.75,"j":0.32},{"n":16,"c":"L","v":0.4,"j":-0.15},{"n":16,"c":"L","v":0.3,"j":0.05},{"n":16,"c":"L","v":0.5,"j":-0.28},{"n":16,"c":"L","v":0.65,"j":0.2},{"n":16,"c":"L","v":0.15,"j":-0.36},{"n":16,"c":"L","v":-0.65,"j":-0.02},{"n":16,"c":"L","v":-0.4,"j":0.38},{"n":16,"c":"L","v":-0.3,"j":-0.2},{"n":16,"c":"L","v":-1.3,"j":0.12},{"n":16,"c":"L","v":-0.9,"j":-0.09},{"n":16,"c":"L","v":-0.6,"j":0.27},{"n":16,"c":"L","v":0.0,"j":-0.33},{"n":16,"c":"L","v":-0.2,"j":0.02},{"n":16,"c":"L","v":0.2,"j":-0.24},{"n":16,"c":"L","v":-0.5,"j":0.35},{"n":16,"c":"L","v":-0.1,"j":-0.12},{"n":16,"c":"L","v":-0.8,"j":0.16},{"n":16,"c":"L","v":0.55,"j":-0.3},{"n":16,"c":"L","v":-0.3,"j":0.08},
{"n":16,"c":"I","v":1.0,"j":-0.1},{"n":16,"c":"I","v":0.9,"j":0.3},{"n":16,"c":"I","v":0.8,"j":-0.25},{"n":16,"c":"I","v":0.6,"j":0.15},{"n":16,"c":"I","v":0.5,"j":-0.35},{"n":16,"c":"I","v":0.3,"j":0.05},{"n":16,"c":"I","v":-0.3,"j":-0.18},{"n":16,"c":"I","v":-0.6,"j":0.37},{"n":16,"c":"I","v":-0.9,"j":-0.05},{"n":16,"c":"I","v":-0.5,"j":-0.3},{"n":16,"c":"I","v":0.7,"j":0.22},{"n":16,"c":"I","v":0.2,"j":-0.14},{"n":16,"c":"I","v":0.4,"j":0.1},{"n":16,"c":"I","v":0.0,"j":-0.38},{"n":16,"c":"I","v":0.65,"j":0.28},
{"n":16,"c":"H","v":1.1,"j":0.25},{"n":16,"c":"H","v":0.45,"j":-0.3},{"n":16,"c":"H","v":0.05,"j":-0.05},{"n":16,"c":"H","v":0.0,"j":0.38},{"n":16,"c":"H","v":0.0,"j":-0.2},{"n":16,"c":"H","v":0.0,"j":0.1},{"n":16,"c":"H","v":-0.4,"j":-0.36},{"n":16,"c":"H","v":-0.5,"j":0.18},{"n":16,"c":"H","v":0.05,"j":-0.12},{"n":16,"c":"H","v":-0.1,"j":0.3},{"n":16,"c":"H","v":0.2,"j":-0.26},{"n":16,"c":"H","v":0.35,"j":0.0},
{"n":17,"c":"L","v":3.6,"j":-0.32},{"n":17,"c":"L","v":3.4,"j":0.15},{"n":17,"c":"L","v":3.0,"j":-0.05},{"n":17,"c":"L","v":2.3,"j":0.28},{"n":17,"c":"L","v":2.4,"j":-0.2},{"n":17,"c":"L","v":0.4,"j":0.36},{"n":17,"c":"L","v":0.2,"j":0.02},{"n":17,"c":"L","v":-0.2,"j":-0.38},{"n":17,"c":"L","v":-0.5,"j":0.2},{"n":17,"c":"L","v":-1.0,"j":-0.12},{"n":17,"c":"L","v":-2.3,"j":0.09},{"n":17,"c":"L","v":-1.5,"j":-0.27},{"n":17,"c":"L","v":-1.8,"j":0.33},{"n":17,"c":"L","v":0.0,"j":-0.02},{"n":17,"c":"L","v":-0.3,"j":0.24},{"n":17,"c":"L","v":-0.9,"j":-0.35},{"n":17,"c":"L","v":1.0,"j":0.12},{"n":17,"c":"L","v":-2.0,"j":-0.16},{"n":17,"c":"L","v":-1.2,"j":0.3},{"n":17,"c":"L","v":-2.6,"j":-0.08},
{"n":17,"c":"I","v":3.0,"j":0.1},{"n":17,"c":"I","v":2.8,"j":-0.3},{"n":17,"c":"I","v":2.0,"j":0.25},{"n":17,"c":"I","v":1.6,"j":-0.15},{"n":17,"c":"I","v":0.6,"j":0.35},{"n":17,"c":"I","v":0.9,"j":-0.05},{"n":17,"c":"I","v":0.0,"j":0.18},{"n":17,"c":"I","v":-0.4,"j":-0.37},{"n":17,"c":"I","v":-1.0,"j":0.05},{"n":17,"c":"I","v":-1.5,"j":0.3},{"n":17,"c":"I","v":-2.5,"j":-0.22},{"n":17,"c":"I","v":-3.0,"j":0.14},{"n":17,"c":"I","v":-2.0,"j":-0.1},{"n":17,"c":"I","v":0.5,"j":0.38},{"n":17,"c":"I","v":-1.0,"j":-0.28},
{"n":17,"c":"H","v":3.0,"j":-0.25},{"n":17,"c":"H","v":2.1,"j":0.3},{"n":17,"c":"H","v":2.2,"j":0.05},{"n":17,"c":"H","v":1.9,"j":-0.38},{"n":17,"c":"H","v":1.2,"j":0.2},{"n":17,"c":"H","v":0.5,"j":-0.1},{"n":17,"c":"H","v":-0.2,"j":0.36},{"n":17,"c":"H","v":-0.7,"j":-0.18},{"n":17,"c":"H","v":0.0,"j":0.12},{"n":17,"c":"H","v":1.0,"j":-0.3},{"n":17,"c":"H","v":0.3,"j":0.26},{"n":17,"c":"H","v":0.2,"j":0.0},
{"n":18,"c":"L","v":0.4,"j":0.32},{"n":18,"c":"L","v":0.3,"j":-0.15},{"n":18,"c":"L","v":0.2,"j":0.05},{"n":18,"c":"L","v":0.15,"j":-0.28},{"n":18,"c":"L","v":0.0,"j":0.2},{"n":18,"c":"L","v":-0.1,"j":-0.36},{"n":18,"c":"L","v":-0.2,"j":-0.02},{"n":18,"c":"L","v":-0.3,"j":0.38},{"n":18,"c":"L","v":-0.4,"j":-0.2},{"n":18,"c":"L","v":0.1,"j":0.12},{"n":18,"c":"L","v":-0.15,"j":-0.09},{"n":18,"c":"L","v":0.05,"j":0.27},{"n":18,"c":"L","v":-0.25,"j":-0.33},{"n":18,"c":"L","v":0.0,"j":0.02},{"n":18,"c":"L","v":-0.1,"j":-0.24},{"n":18,"c":"L","v":0.25,"j":0.35},{"n":18,"c":"L","v":-0.35,"j":-0.12},{"n":18,"c":"L","v":-0.05,"j":0.16},{"n":18,"c":"L","v":0.1,"j":-0.3},{"n":18,"c":"L","v":-0.6,"j":0.08},
{"n":18,"c":"I","v":0.8,"j":-0.1},{"n":18,"c":"I","v":0.5,"j":0.3},{"n":18,"c":"I","v":0.4,"j":-0.25},{"n":18,"c":"I","v":0.3,"j":0.15},{"n":18,"c":"I","v":0.2,"j":-0.35},{"n":18,"c":"I","v":0.1,"j":0.05},{"n":18,"c":"I","v":-0.2,"j":-0.18},{"n":18,"c":"I","v":-0.4,"j":0.37},{"n":18,"c":"I","v":-0.6,"j":-0.05},{"n":18,"c":"I","v":0.35,"j":-0.3},{"n":18,"c":"I","v":0.0,"j":0.22},{"n":18,"c":"I","v":0.15,"j":-0.14},{"n":18,"c":"I","v":0.25,"j":0.1},{"n":18,"c":"I","v":-0.1,"j":-0.38},{"n":18,"c":"I","v":0.3,"j":0.28},
{"n":18,"c":"H","v":0.9,"j":0.25},{"n":18,"c":"H","v":0.6,"j":-0.3},{"n":18,"c":"H","v":0.3,"j":-0.05},{"n":18,"c":"H","v":0.1,"j":0.38},{"n":18,"c":"H","v":-0.1,"j":-0.2},{"n":18,"c":"H","v":-0.5,"j":0.1},{"n":18,"c":"H","v":-1.0,"j":-0.36},{"n":18,"c":"H","v":-1.3,"j":0.18},{"n":18,"c":"H","v":0.2,"j":-0.12},{"n":18,"c":"H","v":-0.6,"j":0.3},{"n":18,"c":"H","v":0.3,"j":-0.26},{"n":18,"c":"H","v":-0.1,"j":0.0},
{"n":19,"c":"L","v":0.9,"j":-0.32},{"n":19,"c":"L","v":0.8,"j":0.15},{"n":19,"c":"L","v":0.7,"j":-0.05},{"n":19,"c":"L","v":0.5,"j":0.28},{"n":19,"c":"L","v":0.3,"j":-0.2},{"n":19,"c":"L","v":0.0,"j":0.36},{"n":19,"c":"L","v":-0.1,"j":0.02},{"n":19,"c":"L","v":-0.3,"j":-0.38},{"n":19,"c":"L","v":-0.6,"j":0.2},{"n":19,"c":"L","v":0.2,"j":-0.12},{"n":19,"c":"L","v":-0.2,"j":0.09},{"n":19,"c":"L","v":0.4,"j":-0.27},{"n":19,"c":"L","v":0.1,"j":0.33},{"n":19,"c":"L","v":-0.4,"j":-0.02},{"n":19,"c":"L","v":0.25,"j":0.24},{"n":19,"c":"L","v":0.0,"j":-0.35},{"n":19,"c":"L","v":-0.15,"j":0.12},{"n":19,"c":"L","v":0.6,"j":-0.16},{"n":19,"c":"L","v":-0.5,"j":0.3},{"n":19,"c":"L","v":0.15,"j":-0.08},
{"n":19,"c":"I","v":0.9,"j":0.1},{"n":19,"c":"I","v":0.5,"j":-0.3},{"n":19,"c":"I","v":0.3,"j":0.25},{"n":19,"c":"I","v":0.0,"j":-0.15},{"n":19,"c":"I","v":-0.2,"j":0.35},{"n":19,"c":"I","v":-0.5,"j":-0.05},{"n":19,"c":"I","v":-0.6,"j":0.18},{"n":19,"c":"I","v":-0.7,"j":-0.37},{"n":19,"c":"I","v":-0.8,"j":0.05},{"n":19,"c":"I","v":-0.5,"j":0.3},{"n":19,"c":"I","v":0.1,"j":-0.22},{"n":19,"c":"I","v":-0.3,"j":0.14},{"n":19,"c":"I","v":-0.4,"j":-0.1},{"n":19,"c":"I","v":-0.6,"j":0.38},{"n":19,"c":"I","v":-0.2,"j":-0.28},
{"n":19,"c":"H","v":1.0,"j":-0.25},{"n":19,"c":"H","v":0.9,"j":0.3},{"n":19,"c":"H","v":0.7,"j":0.05},{"n":19,"c":"H","v":0.6,"j":-0.38},{"n":19,"c":"H","v":0.3,"j":0.2},{"n":19,"c":"H","v":0.0,"j":-0.1},{"n":19,"c":"H","v":-0.5,"j":0.36},{"n":19,"c":"H","v":-0.8,"j":-0.18},{"n":19,"c":"H","v":0.2,"j":0.12},{"n":19,"c":"H","v":0.5,"j":-0.3},{"n":19,"c":"H","v":-0.1,"j":0.26},{"n":19,"c":"H","v":0.8,"j":0.0},
{"n":20,"c":"L","v":2.0,"j":0.32},{"n":20,"c":"L","v":1.6,"j":-0.15},{"n":20,"c":"L","v":0.9,"j":0.05},{"n":20,"c":"L","v":0.8,"j":-0.28},{"n":20,"c":"L","v":0.5,"j":0.2},{"n":20,"c":"L","v":0.0,"j":-0.36},{"n":20,"c":"L","v":-0.3,"j":-0.02},{"n":20,"c":"L","v":-0.5,"j":0.38},{"n":20,"c":"L","v":-0.9,"j":-0.2},{"n":20,"c":"L","v":-1.3,"j":0.12},{"n":20,"c":"L","v":-1.8,"j":-0.09},{"n":20,"c":"L","v":0.2,"j":0.27},{"n":20,"c":"L","v":-0.6,"j":-0.33},{"n":20,"c":"L","v":0.3,"j":0.02},{"n":20,"c":"L","v":-0.2,"j":-0.24},{"n":20,"c":"L","v":-1.0,"j":0.35},{"n":20,"c":"L","v":0.4,"j":-0.12},{"n":20,"c":"L","v":-0.4,"j":0.16},{"n":20,"c":"L","v":0.1,"j":-0.3},{"n":20,"c":"L","v":0.2,"j":0.08},
{"n":20,"c":"I","v":1.1,"j":-0.1},{"n":20,"c":"I","v":0.9,"j":0.3},{"n":20,"c":"I","v":0.7,"j":-0.25},{"n":20,"c":"I","v":0.4,"j":0.15},{"n":20,"c":"I","v":0.2,"j":-0.35},{"n":20,"c":"I","v":0.0,"j":0.05},{"n":20,"c":"I","v":-0.3,"j":-0.18},{"n":20,"c":"I","v":-0.5,"j":0.37},{"n":20,"c":"I","v":-0.8,"j":-0.05},{"n":20,"c":"I","v":-0.6,"j":-0.3},{"n":20,"c":"I","v":0.3,"j":0.22},{"n":20,"c":"I","v":0.5,"j":-0.14},{"n":20,"c":"I","v":-0.2,"j":0.1},{"n":20,"c":"I","v":0.35,"j":-0.38},{"n":20,"c":"I","v":0.15,"j":0.28},
{"n":20,"c":"H","v":3.1,"j":0.25},{"n":20,"c":"H","v":2.1,"j":-0.3},{"n":20,"c":"H","v":1.3,"j":-0.05},{"n":20,"c":"H","v":1.0,"j":0.38},{"n":20,"c":"H","v":0.5,"j":-0.2},{"n":20,"c":"H","v":0.2,"j":0.1},{"n":20,"c":"H","v":-0.3,"j":-0.36},{"n":20,"c":"H","v":-0.5,"j":0.18},{"n":20,"c":"H","v":-0.5,"j":-0.12},{"n":20,"c":"H","v":0.3,"j":0.3},{"n":20,"c":"H","v":0.0,"j":-0.26},{"n":20,"c":"H","v":0.0,"j":0.0},
{"n":21,"c":"L","v":2.3,"j":-0.32},{"n":21,"c":"L","v":2.0,"j":0.15},{"n":21,"c":"L","v":1.2,"j":-0.05},{"n":21,"c":"L","v":0.8,"j":0.28},{"n":21,"c":"L","v":0.2,"j":-0.2},{"n":21,"c":"L","v":0.0,"j":0.36},{"n":21,"c":"L","v":-0.4,"j":0.02},{"n":21,"c":"L","v":-0.8,"j":-0.38},{"n":21,"c":"L","v":-1.1,"j":0.2},{"n":21,"c":"L","v":-1.5,"j":-0.12},{"n":21,"c":"L","v":-2.0,"j":0.09},{"n":21,"c":"L","v":-1.3,"j":-0.27},{"n":21,"c":"L","v":-0.6,"j":0.33},{"n":21,"c":"L","v":0.5,"j":-0.02},{"n":21,"c":"L","v":-0.9,"j":0.24},{"n":21,"c":"L","v":-1.6,"j":-0.35},{"n":21,"c":"L","v":-0.2,"j":0.12},{"n":21,"c":"L","v":0.4,"j":-0.16},{"n":21,"c":"L","v":-1.0,"j":0.3},{"n":21,"c":"L","v":-0.3,"j":-0.08},
{"n":21,"c":"I","v":2.1,"j":0.1},{"n":21,"c":"I","v":1.8,"j":-0.3},{"n":21,"c":"I","v":1.5,"j":0.25},{"n":21,"c":"I","v":1.2,"j":-0.15},{"n":21,"c":"I","v":0.7,"j":0.35},{"n":21,"c":"I","v":0.3,"j":-0.05},{"n":21,"c":"I","v":-0.2,"j":0.18},{"n":21,"c":"I","v":-0.5,"j":-0.37},{"n":21,"c":"I","v":-1.0,"j":0.05},{"n":21,"c":"I","v":-1.0,"j":0.3},{"n":21,"c":"I","v":0.0,"j":-0.22},{"n":21,"c":"I","v":0.6,"j":0.14},{"n":21,"c":"I","v":-0.6,"j":-0.1},{"n":21,"c":"I","v":0.4,"j":0.38},{"n":21,"c":"I","v":-0.8,"j":-0.28},
{"n":21,"c":"H","v":2.7,"j":-0.25},{"n":21,"c":"H","v":2.3,"j":0.3},{"n":21,"c":"H","v":1.6,"j":0.05},{"n":21,"c":"H","v":1.1,"j":-0.38},{"n":21,"c":"H","v":0.8,"j":0.2},{"n":21,"c":"H","v":0.2,"j":-0.1},{"n":21,"c":"H","v":-0.5,"j":0.36},{"n":21,"c":"H","v":-1.0,"j":-0.18},{"n":21,"c":"H","v":-1.6,"j":0.12},{"n":21,"c":"H","v":-2.0,"j":-0.3},{"n":21,"c":"H","v":0.6,"j":0.26},{"n":21,"c":"H","v":-1.2,"j":0.0},
{"n":22,"c":"L","v":1.0,"j":0.32},{"n":22,"c":"L","v":0.5,"j":-0.15},{"n":22,"c":"L","v":0.3,"j":0.05},{"n":22,"c":"L","v":0.1,"j":-0.28},{"n":22,"c":"L","v":0.0,"j":0.2},{"n":22,"c":"L","v":-0.1,"j":-0.36},{"n":22,"c":"L","v":-0.2,"j":-0.02},{"n":22,"c":"L","v":-0.3,"j":0.38},{"n":22,"c":"L","v":-0.5,"j":-0.2},{"n":22,"c":"L","v":-1.5,"j":0.12},{"n":22,"c":"L","v":-0.8,"j":-0.09},{"n":22,"c":"L","v":0.2,"j":0.27},{"n":22,"c":"L","v":-0.4,"j":-0.33},{"n":22,"c":"L","v":0.0,"j":0.02},{"n":22,"c":"L","v":-0.1,"j":-0.24},{"n":22,"c":"L","v":0.4,"j":0.35},{"n":22,"c":"L","v":-0.6,"j":-0.12},{"n":22,"c":"L","v":-0.2,"j":0.16},{"n":22,"c":"L","v":0.1,"j":-0.3},{"n":22,"c":"L","v":0.1,"j":0.08},
{"n":22,"c":"I","v":0.9,"j":-0.1},{"n":22,"c":"I","v":0.6,"j":0.3},{"n":22,"c":"I","v":0.4,"j":-0.25},{"n":22,"c":"I","v":0.2,"j":0.15},{"n":22,"c":"I","v":0.0,"j":-0.35},{"n":22,"c":"I","v":-0.2,"j":0.05},{"n":22,"c":"I","v":-0.5,"j":-0.18},{"n":22,"c":"I","v":-0.3,"j":0.37},{"n":22,"c":"I","v":0.3,"j":-0.05},{"n":22,"c":"I","v":0.1,"j":-0.3},{"n":22,"c":"I","v":0.5,"j":0.22},{"n":22,"c":"I","v":-0.1,"j":-0.14},{"n":22,"c":"I","v":0.2,"j":0.1},{"n":22,"c":"I","v":0.15,"j":-0.38},{"n":22,"c":"I","v":0.0,"j":0.28},
{"n":22,"c":"H","v":1.1,"j":0.25},{"n":22,"c":"H","v":0.9,"j":-0.3},{"n":22,"c":"H","v":0.6,"j":-0.05},{"n":22,"c":"H","v":0.3,"j":0.38},{"n":22,"c":"H","v":0.0,"j":-0.2},{"n":22,"c":"H","v":-0.3,"j":0.1},{"n":22,"c":"H","v":-0.6,"j":-0.36},{"n":22,"c":"H","v":-0.4,"j":0.18},{"n":22,"c":"H","v":0.2,"j":-0.12},{"n":22,"c":"H","v":-0.1,"j":0.3},{"n":22,"c":"H","v":0.5,"j":-0.26},{"n":22,"c":"H","v":-0.4,"j":0.0}
]},
"columns": 5,
"spacing": {"row": 4.2, "column": 6},
"facet": {"field": "n", "type": "ordinal", "header": {"labelExpr": "''", "labelFontSize": 1, "labelPadding": 0, "title": "Risk category", "titleOrient": "bottom", "titleFontSize": 11.5, "titleFontWeight": "normal", "titleColor": "#1a1a1a", "titlePadding": 4}},
"spec": {
  "width": 129,
  "height": 124,
  "layer": [
    {"transform": [{"filter": "isValid(datum.name)"}],
     "mark": {"type": "rule", "color": "#f3f3f3", "strokeWidth": 1},
     "encoding": {"y": {"datum": -3, "type": "quantitative", "title": null}}},
    {"transform": [{"filter": "isValid(datum.name)"}],
     "mark": {"type": "rule", "color": "#f3f3f3", "strokeWidth": 1},
     "encoding": {"y": {"datum": -1, "type": "quantitative", "title": null}}},
    {"transform": [{"filter": "isValid(datum.name)"}],
     "mark": {"type": "rule", "color": "#f3f3f3", "strokeWidth": 1},
     "encoding": {"y": {"datum": 1, "type": "quantitative", "title": null}}},
    {"transform": [{"filter": "isValid(datum.name)"}],
     "mark": {"type": "rule", "color": "#f3f3f3", "strokeWidth": 1},
     "encoding": {"y": {"datum": 3, "type": "quantitative", "title": null}}},
    {"transform": [{"filter": "isValid(datum.name)"}],
     "mark": {"type": "rect", "fill": "#d9d9d9", "stroke": "#7a7a7a", "strokeWidth": 1},
     "encoding": {"y": {"datum": 4.33, "type": "quantitative", "title": null}, "y2": {"datum": 5.72}}},
    {"transform": [{"filter": "isValid(datum.v)"}],
     "mark": {"type": "circle", "size": 22, "opacity": 0.55},
     "encoding": {
       "x": {"field": "c", "type": "nominal", "title": null,
             "scale": {"domain": ["L", "I", "H"], "paddingInner": 0, "paddingOuter": 0.1},
             "axis": {"bandPosition": 0.5, "grid": true, "gridColor": "#e6e6e6", "domain": false, "tickColor": "#333333", "tickSize": 3, "labelFontSize": 9.5, "labelColor": "#4d4d4d", "labelPadding": 1, "labelAngle": 0, "labelOverlap": false, "labelBound": false, "labelExpr": "datum.value == 'L' ? 'Low' : datum.value == 'I' ? 'Intermediate' : 'High'"}},
       "xOffset": {"field": "j", "type": "quantitative", "scale": {"domain": [-0.5, 0.5]}},
       "y": {"field": "v", "type": "quantitative", "title": null,
             "scale": {"domain": [-3.43, 5.72], "nice": false, "zero": false},
             "axis": {"values": [-2, 0, 2, 4], "grid": true, "gridColor": "#e6e6e6", "domain": false, "tickColor": "#333333", "tickSize": 3, "labelFontSize": 9.5, "labelColor": "#4d4d4d", "labelPadding": 2}},
       "color": {"field": "c", "type": "nominal", "scale": {"domain": ["L", "I", "H"], "range": ["#619CFF", "#F8766D", "#00BA38"]}, "legend": null}
     }},
    {"transform": [{"filter": "isValid(datum.m)"}],
     "mark": {"type": "rule", "color": "black", "strokeWidth": 1},
     "encoding": {"x": {"field": "c", "type": "nominal", "title": null}, "y": {"field": "lo", "type": "quantitative", "title": null}, "y2": {"field": "hi"}}},
    {"transform": [{"filter": "isValid(datum.m)"}],
     "mark": {"type": "tick", "color": "black", "size": 12, "thickness": 1, "orient": "horizontal"},
     "encoding": {"x": {"field": "c", "type": "nominal", "title": null}, "y": {"field": "lo", "type": "quantitative", "title": null}}},
    {"transform": [{"filter": "isValid(datum.m)"}],
     "mark": {"type": "tick", "color": "black", "size": 12, "thickness": 1, "orient": "horizontal"},
     "encoding": {"x": {"field": "c", "type": "nominal", "title": null}, "y": {"field": "hi", "type": "quantitative", "title": null}}},
    {"transform": [{"filter": "isValid(datum.m)"}],
     "mark": {"type": "point", "shape": "triangle-up", "filled": true, "size": 65, "stroke": "black", "strokeWidth": 1, "opacity": 1},
     "encoding": {"x": {"field": "c", "type": "nominal", "title": null}, "y": {"field": "m", "type": "quantitative", "title": null},
       "fill": {"field": "c", "type": "nominal", "scale": {"domain": ["L", "I", "H"], "range": ["#619CFF", "#F8766D", "#00BA38"]}, "legend": null}}},
    {"transform": [{"filter": "isValid(datum.s)"}],
     "mark": {"type": "rule", "color": "#333333", "strokeWidth": 1},
     "encoding": {"x": {"field": "a", "type": "nominal", "title": null, "bandPosition": 0.5}, "x2": {"field": "b"}, "y": {"field": "y", "type": "quantitative", "title": null}}},
    {"transform": [{"filter": "isValid(datum.s) && datum.b == 'I'"}],
     "mark": {"type": "text", "fontSize": 10, "color": "#1a1a1a", "baseline": "alphabetic", "dy": 0},
     "encoding": {"x": {"datum": "I", "type": "nominal", "title": null, "bandPosition": 0}, "y": {"field": "y", "type": "quantitative", "title": null}, "text": {"field": "s"}}},
    {"transform": [{"filter": "isValid(datum.s) && datum.b == 'H'"}],
     "mark": {"type": "text", "fontSize": 10, "color": "#1a1a1a", "baseline": "alphabetic", "dy": 0},
     "encoding": {"x": {"datum": "I", "type": "nominal", "title": null, "bandPosition": 0.5}, "y": {"field": "y", "type": "quantitative", "title": null}, "text": {"field": "s"}}},
    {"transform": [{"filter": "isValid(datum.name)"}],
     "mark": {"type": "text", "fontSize": 9.5, "color": "#1a1a1a", "baseline": "middle"},
     "encoding": {"y": {"datum": 5.03, "type": "quantitative", "title": null}, "text": {"field": "name"}}}
  ]
},
"config": {
  "font": "Liberation Sans",
  "view": {"stroke": "#7a7a7a", "strokeWidth": 1}
}
}
